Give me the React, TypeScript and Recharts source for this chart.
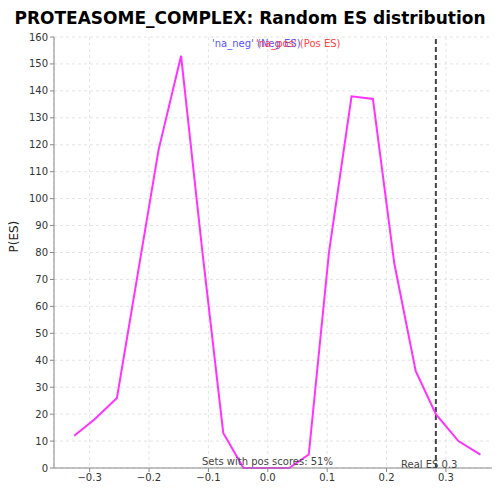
import React from 'react';
import { LineChart, Line, XAxis, YAxis, CartesianGrid, ReferenceLine } from 'recharts';

const esValues = [-0.326, -0.292, -0.254, -0.184, -0.146, -0.111, -0.075, -0.041, -0.003, 0.036, 0.069, 0.103, 0.141, 0.177, 0.213, 0.249, 0.283, 0.321, 0.358];
const pValues = [12, 18, 26, 118, 153, 82, 13, 0, 0, 0, 5, 80, 138, 137, 76, 36, 20, 10, 5];
const xTicks = [-0.3, -0.2, -0.1, 0, 0.1, 0.2, 0.3];
const yTicks = [0, 10, 20, 30, 40, 50, 60, 70, 80, 90, 100, 110, 120, 130, 140, 150, 160];
const realES = 0.283;

const data = esValues.map((es, i) => ({ es, p: pValues[i] }));

const fmtX = (v: number) => (v === 0 ? '0.0' : v < 0 ? `\u2212${Math.abs(v).toFixed(1)}` : v.toFixed(1));

export default function App() {
  return (
    <div style={{ position: 'relative', width: 500, height: 500, margin: -8, background: '#fff', fontFamily: '"DejaVu Sans", sans-serif' }}>
      <div style={{ position: 'absolute', top: 8, width: 500, textAlign: 'center', fontSize: 17, fontWeight: 'bold', whiteSpace: 'nowrap' }}>
        PROTEASOME_COMPLEX: Random ES distribution
      </div>
      <LineChart width={500} height={500} data={data} margin={{ top: 37, right: 0, bottom: 0, left: 12 }}>
        <CartesianGrid stroke="#e4e4e4" strokeDasharray="3 3" />
        <XAxis dataKey="es" type="number" domain={[-0.36, 0.391]} ticks={xTicks} tickFormatter={fmtX} height={32}
          tick={{ fontSize: 10, fill: '#333' }} stroke="#888" tickSize={4}
          label={{ value: 'ES', position: 'insideBottom', offset: -2, fontSize: 12, fill: '#222' }} />
        <YAxis domain={[0, 160]} ticks={yTicks} tick={{ fontSize: 10, fill: '#333' }} stroke="#888" width={42} tickSize={4}
          label={{ value: 'P(ES)', angle: -90, position: 'insideLeft', offset: 2, fontSize: 12, fill: '#222' }} />
        <ReferenceLine x={realES} stroke="#444" strokeWidth={2} strokeDasharray="5 3" />
        <Line dataKey="p" stroke="#ff33ff" strokeWidth={2} dot={false} isAnimationActive={false} />
      </LineChart>
      <div style={{ position: 'absolute', top: 38, left: 212, fontSize: 10, whiteSpace: 'nowrap', color: '#5555ff' }}>'na_neg' (Neg ES)</div>
      <div style={{ position: 'absolute', top: 38, left: 256, fontSize: 10, whiteSpace: 'nowrap', color: '#ff4444' }}>'na_pos' (Pos ES)</div>
      <div style={{ position: 'absolute', top: 456, left: 202, fontSize: 10, color: '#444' }}>Sets with pos scores: 51%</div>
      <div style={{ position: 'absolute', top: 459, left: 401, fontSize: 10, color: '#444' }}>Real ES 0.3</div>
    </div>
  );
}
